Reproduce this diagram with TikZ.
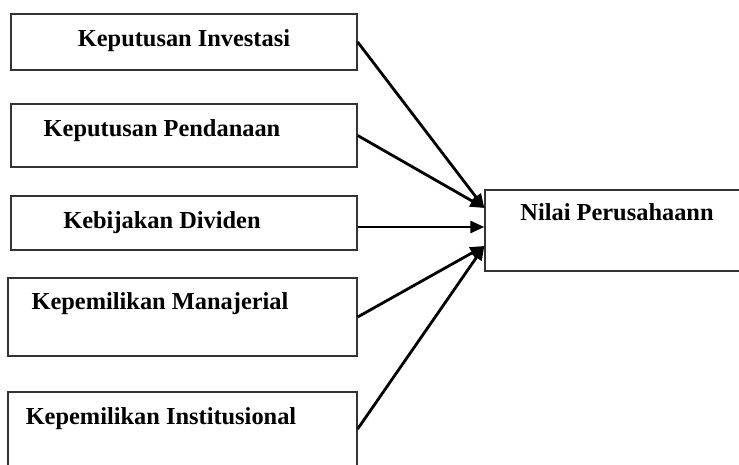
\documentclass[tikz,border=0pt]{standalone}
\usepackage{fontspec}
\setmainfont{Liberation Serif}
\usetikzlibrary{arrows.meta}
\begin{document}
\begin{tikzpicture}[x=1pt,y=-1pt,font=\fontsize{24.4}{28}\selectfont\bfseries,
  box/.style={draw=black!80,line width=1.3pt,inner sep=0pt,minimum width=346pt},
  lbl/.style={anchor=base,inner sep=0pt},
  arr/.style={-{Triangle[length=14pt,width=12pt]},line width=2.8pt}]
  \useasboundingbox (0,0) rectangle (739,464);
  \clip (0,0) rectangle (739,464);
  \node[box,minimum height=56pt] (inv) at (184,42) {};
  \node[box,minimum height=63pt] (dana) at (184,135.5) {};
  \node[box,minimum height=54pt] (div) at (184,223) {};
  \node[box,minimum width=349pt,minimum height=78pt] (mnj) at (182.5,317) {};
  \node[box,minimum width=349pt,minimum height=74pt] (ins) at (182.5,429) {};
  \node[box,minimum width=275pt,minimum height=81pt] (nilai) at (622.5,230.5) {};
  \node[lbl] (invtxt) at (184,46) {Keputusan Investasi};
  \node[lbl] (danatxt) at (162,136) {Keputusan Pendanaan};
  \node[lbl] (divtxt) at (162,228) {Kebijakan Dividen};
  \node[lbl] (mnjtxt) at (160,309) {Kepemilikan Manajerial};
  \node[lbl] (instxt) at (161,424) {Kepemilikan Institusional};
  \node[lbl] (nilaitxt) at (617,220) {Nilai Perusahaann};
  \draw[arr] (inv.east) -- ([yshift=22.5pt]nilai.west);
  \draw[arr] (dana.east) -- ([yshift=22.5pt]nilai.west);
  \draw[arr] ([yshift=-4pt]div.east) -- ([yshift=3.5pt]nilai.west);
  \draw[arr] (mnj.east) -- ([yshift=-15.5pt]nilai.west);
  \draw[arr] (ins.east) -- ([yshift=-15.5pt]nilai.west);
\end{tikzpicture}
\end{document}
